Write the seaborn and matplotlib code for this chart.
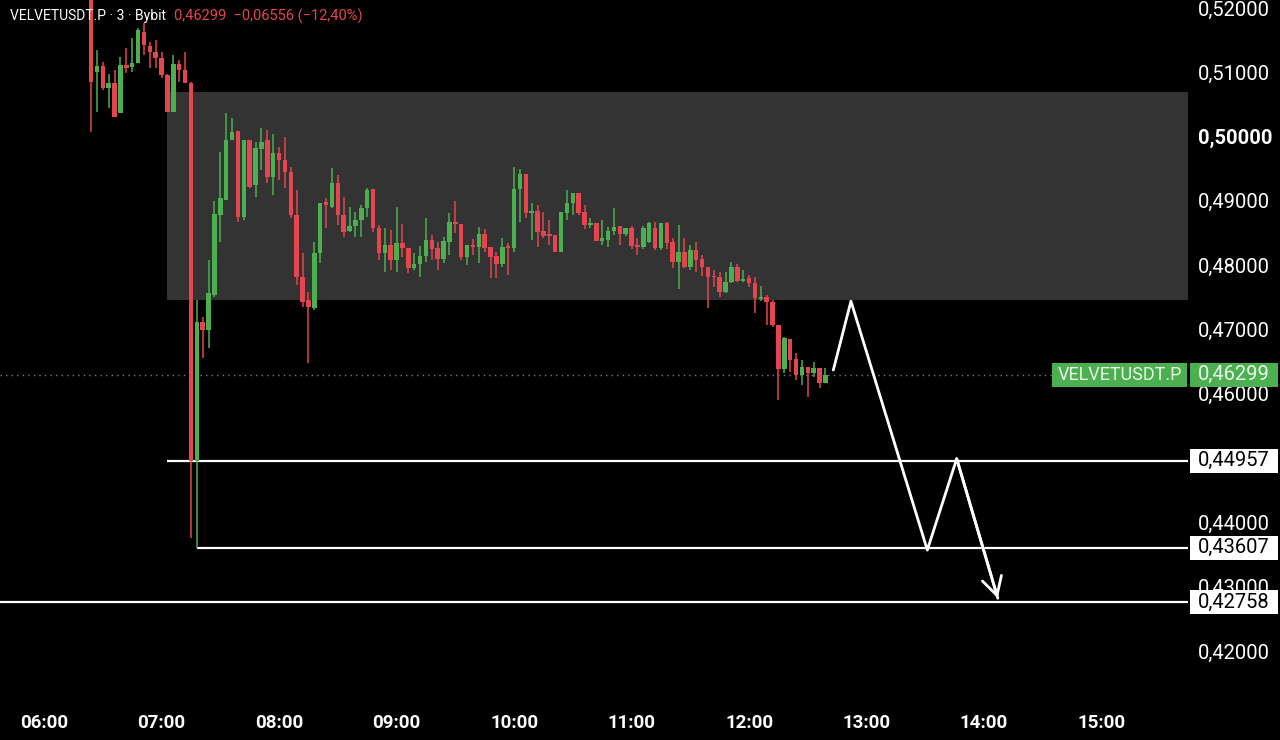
import numpy as np
import matplotlib
matplotlib.use("Agg")
import matplotlib.pyplot as plt
import matplotlib.transforms as mtransforms
from matplotlib.patches import Rectangle
import seaborn as sns

# 3-minute candles VELVETUSDT.P (Bybit), first candle 06:24
opens = [0.5230, 0.5100, 0.5110, 0.5076, 0.5083, 0.5037, 0.5111, 0.5108, 0.5114, 0.5163,
         0.5141, 0.5132, 0.5122, 0.5096, 0.5038, 0.5113, 0.5104, 0.5083, 0.44957, 0.4712,
         0.4699, 0.4754, 0.4878, 0.4901, 0.4995, 0.5009, 0.4875, 0.4995, 0.4925, 0.4981,
         0.4995, 0.4937, 0.4974, 0.4964, 0.4945, 0.4878, 0.4782, 0.4746, 0.4733, 0.4819,
         0.4898, 0.4890, 0.4928, 0.4878, 0.4853, 0.4861, 0.4870, 0.4889, 0.4919, 0.4858,
         0.4819, 0.4831, 0.4808, 0.4834, 0.4827, 0.4796, 0.4802, 0.4814, 0.4839, 0.4827,
         0.4810, 0.4836, 0.4867, 0.4864, 0.4813, 0.4831, 0.4828, 0.4848, 0.4828, 0.4814,
         0.4802, 0.4830, 0.4827, 0.4919, 0.4942, 0.4881, 0.4884, 0.4853, 0.4848, 0.4847,
         0.4821, 0.4881, 0.4897, 0.4912, 0.4883, 0.4862, 0.4866, 0.4838, 0.4839, 0.4853,
         0.4861, 0.4848, 0.4858, 0.4831, 0.4828, 0.4836, 0.4858, 0.4827, 0.4866, 0.4836,
         0.4805, 0.4821, 0.4797, 0.4824, 0.4810, 0.4797, 0.4783, 0.4782, 0.4758, 0.4774,
         0.4797, 0.4775, 0.4780, 0.4772, 0.4747, 0.4751, 0.4743, 0.4707, 0.4639, 0.4685,
         0.4654, 0.4629, 0.4642, 0.4632, 0.4640, 0.4617]
highs = [0.5240, 0.5135, 0.5116, 0.5097, 0.5104, 0.5124, 0.5138, 0.5153, 0.5169, 0.5177,
         0.5147, 0.5150, 0.5132, 0.5097, 0.5127, 0.5119, 0.5132, 0.5085, 0.4746, 0.4719,
         0.4808, 0.4900, 0.4976, 0.5037, 0.5029, 0.5009, 0.4995, 0.4995, 0.4992, 0.5013,
         0.5010, 0.5004, 0.4984, 0.4999, 0.4953, 0.4917, 0.4819, 0.4758, 0.4836, 0.4897,
         0.4904, 0.4951, 0.4940, 0.4906, 0.4890, 0.4883, 0.4894, 0.4920, 0.4919, 0.4862,
         0.4858, 0.4854, 0.4890, 0.4864, 0.4827, 0.4819, 0.4830, 0.4873, 0.4847, 0.4836,
         0.4844, 0.4881, 0.4900, 0.4864, 0.4831, 0.4841, 0.4859, 0.4856, 0.4828, 0.4820,
         0.4842, 0.4834, 0.4953, 0.4950, 0.4942, 0.4897, 0.4894, 0.4883, 0.4870, 0.4847,
         0.4883, 0.4917, 0.4912, 0.4912, 0.4894, 0.4873, 0.4866, 0.4870, 0.4859, 0.4889,
         0.4861, 0.4858, 0.4861, 0.4842, 0.4861, 0.4867, 0.4867, 0.4866, 0.4867, 0.4842,
         0.4862, 0.4842, 0.4831, 0.4836, 0.4816, 0.4797, 0.4793, 0.4789, 0.4789, 0.4805,
         0.4802, 0.4793, 0.4785, 0.4782, 0.4768, 0.4754, 0.4746, 0.4707, 0.4688, 0.4685,
         0.4663, 0.4653, 0.4642, 0.4649, 0.4640, 0.4640]
lows = [0.5007, 0.5038, 0.5072, 0.5044, 0.5030, 0.5037, 0.5099, 0.5100, 0.5114, 0.5127,
        0.5107, 0.5107, 0.5091, 0.5038, 0.5038, 0.5085, 0.5083, 0.4376, 0.43607, 0.4656,
        0.4671, 0.4751, 0.4836, 0.4901, 0.4995, 0.4867, 0.4870, 0.4920, 0.4906, 0.4948,
        0.4928, 0.4909, 0.4932, 0.4920, 0.4873, 0.4769, 0.4735, 0.4648, 0.4730, 0.4803,
        0.4858, 0.4889, 0.4862, 0.4844, 0.4852, 0.4844, 0.4844, 0.4875, 0.4852, 0.4808,
        0.4789, 0.4793, 0.4789, 0.4813, 0.4788, 0.4793, 0.4782, 0.4805, 0.4808, 0.4793,
        0.4803, 0.4816, 0.4850, 0.4808, 0.4800, 0.4816, 0.4803, 0.4821, 0.4780, 0.4780,
        0.4797, 0.4785, 0.4821, 0.4867, 0.4873, 0.4839, 0.4828, 0.4842, 0.4831, 0.4821,
        0.4821, 0.4870, 0.4878, 0.4878, 0.4856, 0.4858, 0.4838, 0.4831, 0.4828, 0.4847,
        0.4831, 0.4845, 0.4825, 0.4816, 0.4825, 0.4834, 0.4824, 0.4824, 0.4825, 0.4796,
        0.4763, 0.4796, 0.4793, 0.4789, 0.4783, 0.4733, 0.4766, 0.4751, 0.4757, 0.4772,
        0.4774, 0.4774, 0.4766, 0.4726, 0.4744, 0.4707, 0.4704, 0.4590, 0.4632, 0.4634,
        0.4621, 0.4614, 0.4595, 0.4626, 0.4609, 0.4617]
closes = [0.5085, 0.5110, 0.5076, 0.5083, 0.5030, 0.5111, 0.5107, 0.5114, 0.5166, 0.5142,
          0.5132, 0.5122, 0.5096, 0.5038, 0.5113, 0.5104, 0.5083, 0.44957, 0.4712, 0.4699,
          0.4757, 0.4880, 0.4904, 0.4995, 0.5007, 0.4875, 0.4995, 0.4922, 0.4982, 0.4992,
          0.4937, 0.4974, 0.4964, 0.4945, 0.4878, 0.4782, 0.4743, 0.4735, 0.4819, 0.4897,
          0.4894, 0.4928, 0.4878, 0.4852, 0.4861, 0.4870, 0.4889, 0.4917, 0.4858, 0.4819,
          0.4831, 0.4808, 0.4834, 0.4827, 0.4796, 0.4802, 0.4814, 0.4839, 0.4825, 0.4810,
          0.4838, 0.4867, 0.4864, 0.4813, 0.4831, 0.4828, 0.4848, 0.4827, 0.4813, 0.4802,
          0.4828, 0.4827, 0.4919, 0.4942, 0.4881, 0.4884, 0.4852, 0.4845, 0.4845, 0.4821,
          0.4883, 0.4897, 0.4912, 0.4881, 0.4862, 0.4866, 0.4838, 0.4842, 0.4853, 0.4859,
          0.4848, 0.4858, 0.4830, 0.4828, 0.4858, 0.4866, 0.4827, 0.4866, 0.4834, 0.4805,
          0.4821, 0.4797, 0.4824, 0.4808, 0.4797, 0.4782, 0.4782, 0.4758, 0.4774, 0.4797,
          0.4775, 0.4779, 0.4772, 0.4749, 0.4751, 0.4743, 0.4707, 0.4639, 0.4687, 0.4653,
          0.4629, 0.4642, 0.4632, 0.4640, 0.4617, 0.46299]

first_candle = 6 * 60 + 24   # minutes after midnight
candle_step = 3

x_tick_labels = ["06:00", "07:00", "08:00", "09:00", "10:00",
                 "11:00", "12:00", "13:00", "14:00", "15:00"]
y_ticks = [0.42, 0.43, 0.44, 0.46, 0.47, 0.48, 0.49, 0.50, 0.51, 0.52]

zone_low, zone_high = 0.47458, 0.50693
zone_start = "07:03"
levels = [0.44957, 0.43607, 0.42758]
level_starts = ["07:03", "07:18", "05:30"]
last_price = 0.46299

path_times = ["12:43", "12:52", "13:31", "13:46", "14:07"]
path_prices = [0.4637, 0.4744, 0.4357, 0.4499, 0.4282]


def to_min(s):
    h, m = s.split(":")
    return int(h) * 60 + int(m)


def fmt(v):
    return f"{v:.5f}".replace(".", ",")


up_col = "#4caf50"
down_col = "#e5454f"

sns.set_style("dark", {"axes.facecolor": "black", "figure.facecolor": "black"})
plt.rcParams["font.family"] = ["Roboto", "DejaVu Sans"]

fig = plt.figure(figsize=(12.8, 7.4), dpi=100)
ax = fig.add_axes([0, 40 / 740, 1188 / 1280, 700 / 740])
x_min, x_max = 337.5, 944.1
ax.set_xlim(x_min, x_max)
ax.set_ylim(0.41238, 0.52124)

# supply zone
ax.add_patch(Rectangle((to_min(zone_start), zone_low), x_max - to_min(zone_start),
                       zone_high - zone_low, color="#333333", lw=0, zorder=1))

# candles
t = first_candle + candle_step * np.arange(len(closes))
o = np.array(opens)
c = np.array(closes)
h = np.array(highs)
l = np.array(lows)
colors = np.where(c >= o, up_col, down_col)
ax.vlines(t, l, h, colors=colors, lw=1.1, zorder=3)
body_lo = np.minimum(o, c)
body_h = np.maximum(np.abs(c - o), 0.00012)
ax.bar(t, body_h, bottom=body_lo, width=2.3, color=colors, lw=0, zorder=4)

# levels
for lv, st in zip(levels, level_starts):
    ax.hlines(lv, to_min(st), x_max, colors="white", lw=1.6, zorder=2)
ax.axhline(last_price, color="#7a7a7a", lw=1, ls=(0, (1, 3)), zorder=2)

# projected path
pt = [to_min(s) for s in path_times]
sns.lineplot(x=pt, y=path_prices, sort=False, color="white", lw=2, ax=ax, zorder=6)
ax.annotate("", xy=(pt[-1], path_prices[-1]), xytext=(pt[-2], path_prices[-2]),
            arrowprops=dict(arrowstyle="->,head_length=1.0,head_width=0.55",
                            color="white", lw=2, shrinkA=0, shrinkB=0,
                            mutation_scale=13), zorder=6)

# axes styling
for s in ax.spines.values():
    s.set_visible(False)
ax.grid(False)
ax.set_xlabel("")
ax.set_ylabel("")
ax.set_xticks([to_min(s) for s in x_tick_labels])
ax.set_xticklabels(x_tick_labels)
ax.yaxis.tick_right()
ax.set_yticks(y_ticks)
ax.set_yticklabels([fmt(v) for v in y_ticks])
ax.tick_params(axis="x", length=0, pad=10, labelsize=13.5, labelcolor="white")
ax.tick_params(axis="y", length=0, pad=7, labelsize=14.5, labelcolor="white")
for lab in ax.get_xticklabels():
    lab.set_fontweight("bold")
for lab in ax.get_yticklabels():
    if lab.get_text() == "0,50000":
        lab.set_fontweight("bold")

# price labels on the scale
blend = mtransforms.blended_transform_factory(ax.transAxes, ax.transData)
box_h = 24 / 6430
for lv in levels:
    ax.add_patch(Rectangle((1190 / 1188, lv - box_h / 2), 88 / 1188, box_h, transform=blend,
                           facecolor="white", edgecolor="none", clip_on=False, zorder=7))
    ax.text(1234 / 1188, lv, fmt(lv), transform=blend, ha="center", va="center",
            fontsize=14.5, color="black", zorder=8, clip_on=False)

ax.add_patch(Rectangle((1190 / 1188, last_price - box_h / 2), 88 / 1188, box_h, transform=blend,
                       facecolor=up_col, edgecolor="none", clip_on=False, zorder=7))
ax.text(1234 / 1188, last_price, fmt(last_price), transform=blend, ha="center", va="center",
        fontsize=14.5, color="#eaf6ea", zorder=8, clip_on=False)
ax.add_patch(Rectangle((1052 / 1188, last_price - box_h / 2), 135 / 1188, box_h, transform=blend,
                       facecolor=up_col, edgecolor="none", clip_on=False, zorder=7))
ax.text(1119.5 / 1188, last_price, "VELVETUSDT.P", transform=blend, ha="center", va="center",
        fontsize=13, color="#eaf6ea", zorder=8)

# header
fig.text(10 / 1280, 1 - 16 / 740, "VELVETUSDT.P · 3 · Bybit", color="white",
         fontsize=10, va="center", ha="left")
fig.text(174 / 1280, 1 - 16 / 740, "0,46299  −0,06556 (−12,40%)", color=down_col,
         fontsize=10.5, va="center", ha="left")

fig.savefig("out.png", dpi=100, facecolor="black")
